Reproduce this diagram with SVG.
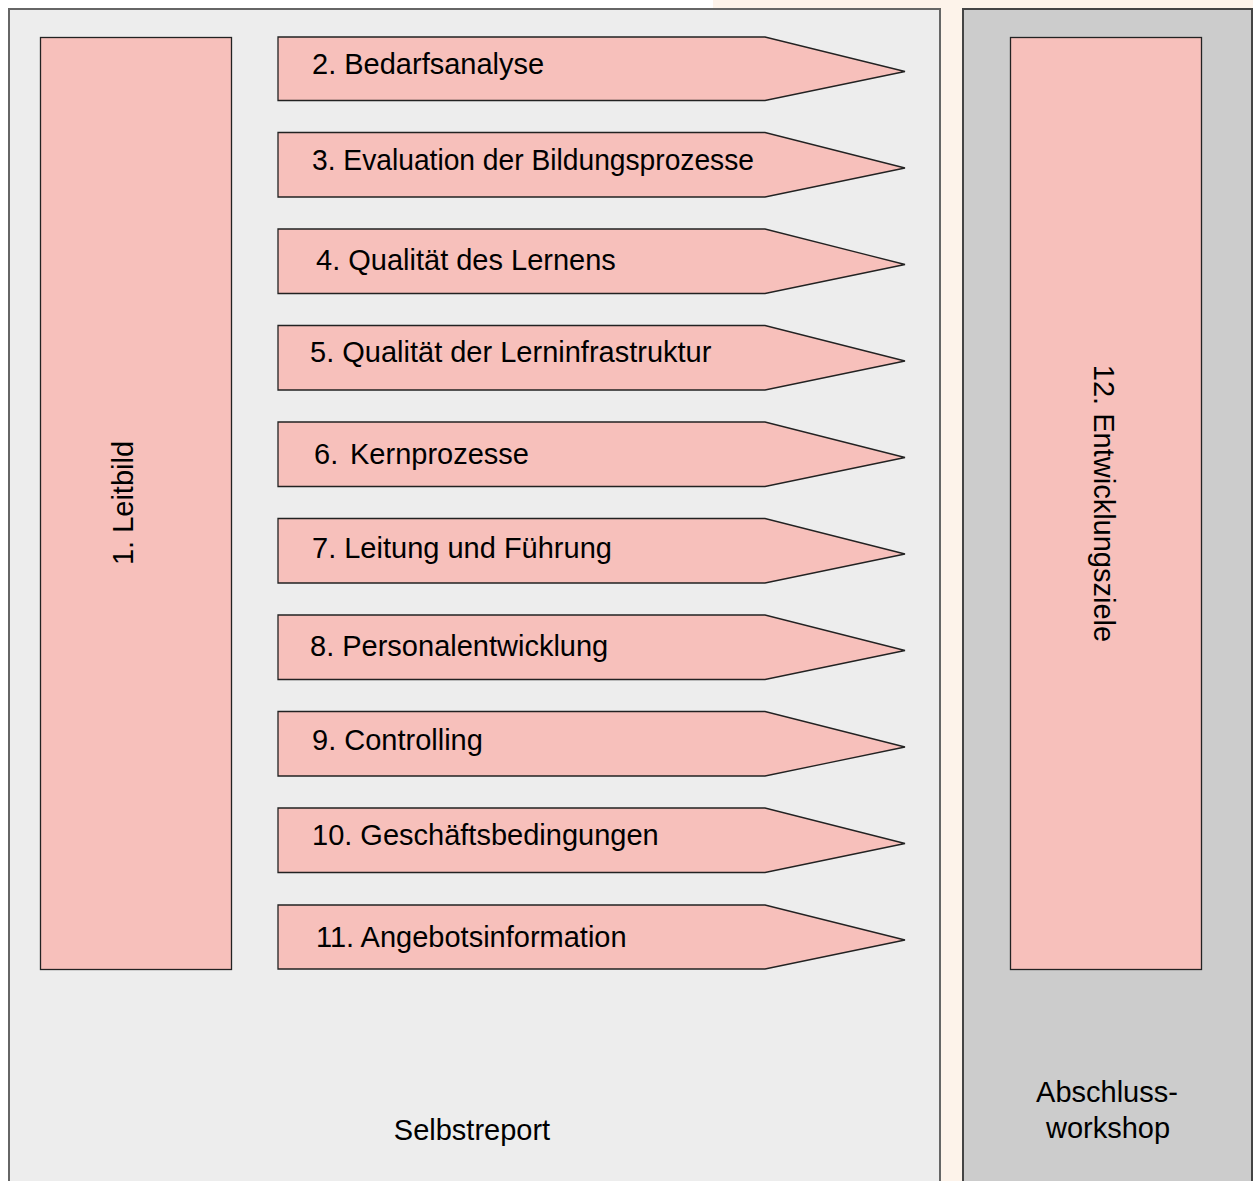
<svg xmlns="http://www.w3.org/2000/svg" width="1253" height="1181" viewBox="0 0 1253 1181">
<style>
text{font-family:"Liberation Sans",Arial,sans-serif;fill:#000;}
.lbl{font-size:29px;}
.box{fill:#F7C0BB;stroke:#222;stroke-width:1.3;}
.arrow{fill:#F7C0BB;stroke:#222;stroke-width:1.3;}
</style>
<rect x="0" y="0" width="1253" height="1181" fill="#FFFFFF"/>
<rect x="713" y="0" width="540" height="1181" fill="#FDF3EA"/>
<g id="panel-selbstreport">
<rect x="9" y="9" width="931" height="1185" fill="#EDEDED" stroke="#666" stroke-width="2"/>
<text class="lbl" x="472" y="1140" text-anchor="middle">Selbstreport</text>
</g>
<g id="panel-abschluss">
<rect x="963" y="9" width="289" height="1185" fill="#CCCCCC" stroke="#444" stroke-width="2"/>
<text class="lbl" x="1107" y="1102" text-anchor="middle">Abschluss-</text>
<text class="lbl" x="1108" y="1138" text-anchor="middle">workshop</text>
</g>
<g id="n1">
<rect class="box" x="40.5" y="37.5" width="191" height="932"/>
<text class="lbl" transform="rotate(-90 132.5 503)" x="132.5" y="503" text-anchor="middle">1. Leitbild</text>
</g>
<g id="n12">
<rect class="box" x="1010.5" y="37.5" width="191" height="932"/>
<text class="lbl" transform="rotate(90 1094 503.5)" x="1094" y="503.5" text-anchor="middle">12. Entwicklungsziele</text>
</g>
<g id="n2">
<polygon class="arrow" points="278,37 765,37 905,71.5 765,100.5 278,100.5"/>
<text class="lbl" x="312" y="73.5">2. Bedarfsanalyse</text>
</g>
<g id="n3">
<polygon class="arrow" points="278,132.5 765,132.5 905,168 765,197 278,197"/>
<text class="lbl" x="312" y="169.5" textLength="442" lengthAdjust="spacingAndGlyphs">3. Evaluation der Bildungsprozesse</text>
</g>
<g id="n4">
<polygon class="arrow" points="278,229 765,229 905,264.5 765,293.5 278,293.5"/>
<text class="lbl" x="316" y="269.5">4. Qualität des Lernens</text>
</g>
<g id="n5">
<polygon class="arrow" points="278,325.5 765,325.5 905,361 765,390 278,390"/>
<text class="lbl" x="310" y="361.5">5. Qualität der Lerninfrastruktur</text>
</g>
<g id="n6">
<polygon class="arrow" points="278,422 765,422 905,457.5 765,486.5 278,486.5"/>
<text class="lbl" x="314" y="463.5">6.<tspan x="350">Kernprozesse</tspan></text>
</g>
<g id="n7">
<polygon class="arrow" points="278,518.5 765,518.5 905,554 765,583 278,583"/>
<text class="lbl" x="312" y="557.5">7. Leitung und Führung</text>
</g>
<g id="n8">
<polygon class="arrow" points="278,615 765,615 905,650.5 765,679.5 278,679.5"/>
<text class="lbl" x="310" y="655.5">8. Personalentwicklung</text>
</g>
<g id="n9">
<polygon class="arrow" points="278,711.5 765,711.5 905,747 765,776 278,776"/>
<text class="lbl" x="312" y="749.5">9. Controlling</text>
</g>
<g id="n10">
<polygon class="arrow" points="278,808 765,808 905,843.5 765,872.5 278,872.5"/>
<text class="lbl" x="312" y="844.5">10. Geschäftsbedingungen</text>
</g>
<g id="n11">
<polygon class="arrow" points="278,905 765,905 905,940 765,969 278,969"/>
<text class="lbl" x="316" y="946.5">11. Angebotsinformation</text>
</g>
<g id="connectors"></g>
</svg>
